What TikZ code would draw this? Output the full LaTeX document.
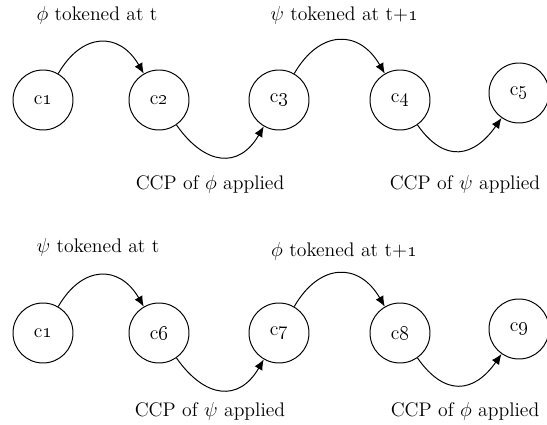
\documentclass[tikz,border=0pt]{standalone}
\usepackage{amsmath,amssymb}
\usepackage{tikz}
\usetikzlibrary{arrows.meta,positioning}

\tikzset{
  ctx/.style={circle,draw,line width=0.7pt,minimum size=1.5cm,inner sep=0pt},
  hop/.style={-{Latex[length=2.6mm,width=2.2mm]},line width=0.7pt,looseness=1.45},
  lbl/.style={anchor=center}
}

\begin{document}
\begin{tikzpicture}[font=\fontsize{14}{17}\selectfont]
  % canvas, same proportions as the reference
  \useasboundingbox (0,0) rectangle (13.675,10.625);
  \def\one{\oldstylenums{1}}
  % --- Sequence 1: phi then psi ---
  \node[ctx] (c1) at (1.075,8.125) {c\one};
  \node[ctx] (c2) at (3.975,8.125) {c\oldstylenums{2}};
  \node[ctx] (c3) at (6.975,8.125) {c\oldstylenums{3}};
  \node[ctx] (c4) at (10.0,8.125) {c\oldstylenums{4}};
  \node[ctx] (c5) at (12.975,8.3) {c\oldstylenums{5}};
  \draw[hop] (c1) to[out=60,in=120] (c2);
  \draw[hop] (c2) to[out=-55,in=-120] (c3);
  \draw[hop] (c3) to[out=60,in=120] (c4);
  \draw[hop] (c4) to[out=-55,in=-125] (c5);
  \node[lbl] (t1) at (2.425,10.25) {$\phi$ tokened at t};
  \node[lbl] (t2) at (8.6,10.25) {$\psi$ tokened at t+\one};
  \node[lbl] (a1) at (5.25,6.025) {CCP of $\phi$ applied};
  \node[lbl] (a2) at (11.625,6.025) {CCP of $\psi$ applied};
  % --- Sequence 2: psi then phi ---
  \node[ctx] (d1) at (1.075,2.3) {c\one};
  \node[ctx] (c6) at (3.975,2.3) {c\oldstylenums{6}};
  \node[ctx] (c7) at (6.975,2.3) {c\oldstylenums{7}};
  \node[ctx] (c8) at (10.0,2.3) {c\oldstylenums{8}};
  \node[ctx] (c9) at (12.975,2.4) {c\oldstylenums{9}};
  \draw[hop] (d1) to[out=60,in=120] (c6);
  \draw[hop] (c6) to[out=-55,in=-120] (c7);
  \draw[hop] (c7) to[out=60,in=120] (c8);
  \draw[hop] (c8) to[out=-55,in=-125] (c9);
  \node[lbl] (t3) at (2.45,4.45) {$\psi$ tokened at t};
  \node[lbl] (t4) at (8.6,4.35) {$\phi$ tokened at t+\one};
  \node[lbl] (a3) at (5.25,0.35) {CCP of $\psi$ applied};
  \node[lbl] (a4) at (11.625,0.35) {CCP of $\phi$ applied};
\end{tikzpicture}
\end{document}
